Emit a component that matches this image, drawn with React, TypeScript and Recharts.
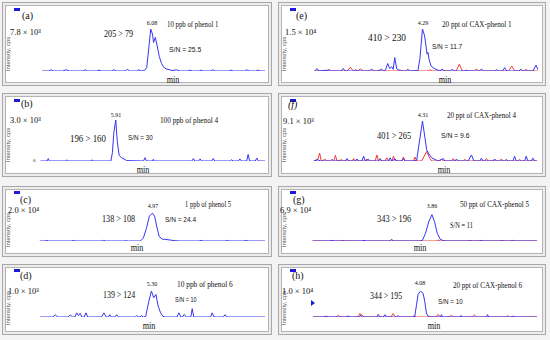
import React from 'react';
import { LineChart, Line, XAxis, YAxis } from 'recharts';

type Pt = [number, number];

// retention time (min), relative intensity (% of the panel's full scale)
const blueA: Pt[] = [[5.12,0],[5.18,0],[5.2,3],[5.22,0],[5.3,0],[5.33,3],[5.36,0],[5.48,0],[5.5,3],[5.52,0],[5.6,0],[5.62,2],[5.64,0],[5.73,0],[5.75,3],[5.77,0],[5.85,0],[5.87,4],[5.89,0],[5.95,0],[5.97,3],[5.99,0],[6.02,1],[6.04,8],[6.06,60],[6.075,100],[6.09,88],[6.1,68],[6.115,80],[6.13,62],[6.15,35],[6.17,18],[6.19,9],[6.21,5],[6.24,3],[6.27,1],[6.3,3],[6.33,0],[6.4,0],[6.42,2],[6.44,0],[6.5,0],[6.52,2],[6.54,0],[6.6,0],[6.62,3],[6.64,0],[6.76,0],[6.78,2],[6.8,0],[6.9,0],[6.92,3],[6.94,0],[7.0,0],[7.02,2],[7.04,0],[7.08,0]];

const blueE: Pt[] = [[3.18,0],[3.2,6],[3.22,0],[3.3,2],[3.32,0],[3.44,0],[3.46,6],[3.48,0],[3.56,0],[3.58,3],[3.6,0],[3.72,0],[3.74,5],[3.76,0],[3.82,0],[3.84,5],[3.86,0],[3.88,3],[3.9,18],[3.92,6],[3.94,10],[3.955,4],[3.97,32],[3.99,5],[4.02,0],[4.08,0],[4.1,4],[4.12,0],[4.2,1],[4.22,30],[4.245,100],[4.265,85],[4.28,60],[4.29,40],[4.3,44],[4.31,28],[4.33,12],[4.36,6],[4.39,3],[4.42,0],[4.44,5],[4.46,0],[4.52,0],[4.54,4],[4.56,0],[4.66,0],[4.68,2],[4.7,0],[4.81,0],[4.83,5],[4.85,0],[4.96,0],[4.98,3],[5.0,0],[5.04,0],[5.06,8],[5.08,0],[5.2,0],[5.22,4],[5.24,0],[5.34,0],[5.37,14],[5.39,3]];
const redE: Pt[] = [[3.17,0],[3.3,0],[3.32,4],[3.34,0],[3.5,0],[3.53,9],[3.56,0],[3.6,0],[3.63,5],[3.66,0],[3.8,0],[3.82,3],[3.84,0],[4.0,0],[4.02,3],[4.04,0],[4.3,0],[4.32,3],[4.34,0],[4.58,0],[4.61,16],[4.64,0],[4.76,0],[4.78,5],[4.8,0],[5.1,0],[5.13,12],[5.16,0],[5.25,0],[5.27,4],[5.29,0],[5.39,0]];

const blueB: Pt[] = [[3.6,0],[3.78,0],[3.81,6],[3.84,0],[4.27,0],[4.3,3],[4.33,0],[4.94,0],[4.97,3],[5.0,0],[5.48,0],[5.52,20],[5.56,70],[5.61,100],[5.65,48],[5.7,14],[5.76,8],[5.83,5],[5.9,1],[6.35,0],[6.39,8],[6.43,0],[6.58,0],[6.61,4],[6.64,0],[7.64,0],[7.68,6],[7.72,0],[7.82,0],[7.86,5],[7.9,0],[8.17,0],[8.21,6],[8.25,0],[8.66,0],[8.7,3],[8.74,0],[8.88,0],[8.92,5],[8.96,0],[9.1,0],[9.14,16],[9.18,0],[9.33,0],[9.37,7],[9.41,0],[9.59,0]];

const blueF: Pt[] = [[3.0,0],[3.05,3],[3.08,0],[3.2,0],[3.22,4],[3.24,0],[3.38,0],[3.4,6],[3.42,0],[3.5,0],[3.52,5],[3.54,0],[3.58,0],[3.6,12],[3.62,0],[3.66,4],[3.68,0],[3.78,0],[3.8,6],[3.82,0],[3.9,0],[3.92,8],[3.94,0],[3.98,5],[4.0,0],[4.06,0],[4.08,6],[4.1,0],[4.2,0],[4.24,2],[4.27,45],[4.31,100],[4.34,57],[4.36,28],[4.38,20],[4.42,8],[4.46,4],[4.5,0],[4.56,6],[4.58,0],[4.7,0],[4.72,5],[4.74,0],[4.86,0],[4.9,15],[4.93,0],[5.0,0],[5.02,7],[5.04,0],[5.16,0],[5.18,5],[5.2,0],[5.3,0],[5.32,4],[5.34,0],[5.4,0],[5.42,12],[5.44,0],[5.54,0],[5.56,12],[5.58,0],[5.62,0],[5.64,7],[5.66,0],[5.69,0]];
const redF: Pt[] = [[3.0,0],[3.05,5],[3.07,20],[3.09,0],[3.14,4],[3.16,0],[3.24,0],[3.26,14],[3.28,0],[3.34,3],[3.36,0],[3.46,0],[3.48,6],[3.5,0],[3.62,0],[3.64,5],[3.66,0],[3.74,0],[3.76,15],[3.78,0],[3.86,0],[3.88,8],[3.9,0],[3.94,0],[3.96,12],[3.98,0],[4.06,0],[4.08,10],[4.1,0],[4.2,0],[4.22,10],[4.24,0],[4.3,0],[4.33,12],[4.36,24],[4.39,10],[4.42,0],[4.52,0],[4.54,5],[4.56,0],[4.66,0],[4.68,6],[4.7,0],[4.8,0],[4.82,4],[4.84,0],[5.06,0],[5.08,6],[5.1,0],[5.24,0],[5.26,5],[5.28,0],[5.46,0],[5.48,4],[5.5,0],[5.69,0]];

const blueC: Pt[] = [[3.48,0],[3.55,0],[3.58,2],[3.6,0],[3.9,0],[3.93,2],[3.96,0],[4.3,0],[4.33,2],[4.36,0],[4.6,0],[4.63,1],[4.66,0],[4.82,0],[4.86,10],[4.9,40],[4.94,80],[4.98,90],[5.01,80],[5.04,45],[5.07,15],[5.11,6],[5.16,5],[5.22,3],[5.28,1],[5.35,0],[5.6,0],[5.63,2],[5.66,0],[5.95,0],[5.98,2],[6.01,0],[6.2,0],[6.23,2],[6.26,0],[6.48,0]];

const blueG: Pt[] = [[2.74,0],[2.9,0],[2.92,2],[2.94,0],[3.2,0],[3.22,2],[3.24,0],[3.46,0],[3.48,4],[3.5,0],[3.74,0],[3.77,2],[3.8,25],[3.83,62],[3.86,85],[3.885,62],[3.91,25],[3.94,5],[3.97,1],[4.0,0],[4.3,0],[4.32,2],[4.34,0],[4.6,0],[4.62,2],[4.64,0],[4.85,0]];
const redG: Pt[] = [[2.73,0],[3.0,0],[3.02,2],[3.04,0],[3.46,0],[3.48,4],[3.5,0],[3.9,0],[3.92,3],[3.94,0],[4.2,0],[4.22,2],[4.24,0],[4.5,0],[4.52,2],[4.54,0],[4.85,0]];

const blueD: Pt[] = [[4.34,0],[4.45,0],[4.47,9],[4.49,0],[4.58,0],[4.6,8],[4.62,0],[4.64,0],[4.655,16],[4.67,5],[4.685,14],[4.7,0],[4.72,0],[4.735,16],[4.75,0],[4.87,0],[4.89,16],[4.91,0],[4.93,0],[4.94,9],[4.955,0],[4.985,0],[5.0,9],[5.015,0],[5.16,0],[5.172,5],[5.19,0],[5.2,0],[5.215,5],[5.23,0],[5.25,2],[5.278,61],[5.3,100],[5.32,74],[5.339,87],[5.358,42],[5.379,16],[5.4,2],[5.42,0],[5.52,0],[5.537,16],[5.555,0],[5.568,0],[5.583,10],[5.6,0],[5.64,0],[5.652,32],[5.665,0],[5.81,0],[5.824,16],[5.84,0],[5.92,0],[5.936,9],[5.95,0],[6.28,0]];

const blueH: Pt[] = [[3.1,0],[3.2,0],[3.22,3],[3.24,0],[3.4,0],[3.42,4],[3.44,0],[3.52,0],[3.543,9],[3.56,0],[3.68,0],[3.694,10],[3.71,0],[3.74,0],[3.755,9],[3.77,0],[3.86,0],[3.876,5],[3.89,0],[4.01,0],[4.027,3],[4.043,47],[4.057,87],[4.079,100],[4.103,91],[4.118,59],[4.133,15],[4.148,3],[4.17,0],[4.26,0],[4.27,9],[4.28,0],[4.44,0],[4.45,6],[4.46,0],[4.68,0],[4.69,9],[4.7,0],[4.9,0],[4.92,3],[4.94,0],[5.14,0]];
const redH: Pt[] = [[3.1,0],[3.31,0],[3.33,6],[3.35,0],[3.51,0],[3.527,13],[3.54,0],[3.81,0],[3.83,13],[3.85,0],[4.0,0],[4.02,4],[4.04,0],[4.22,0],[4.24,10],[4.26,0],[4.34,0],[4.36,6],[4.38,0],[4.55,0],[4.57,8],[4.59,0],[4.86,0],[4.875,5],[4.89,0],[5.14,0]];

// x-axis tick labels (min)
const ticksA = [6.0, 7.0];
const ticksE = [4.0, 5.0];
const ticksB = [5.0, 7.0];
const ticksF = [4.0, 5.0];
const ticksC = [5.0];
const ticksG = [3.0, 4.0];
const ticksD = [5.0, 6.0];
const ticksH = [4.0, 5.0];

const BLUE = '#3535f5';
const RED = '#f03a3a';
const SERIF = '"Liberation Serif", "DejaVu Serif", serif';
const SANS = '"Liberation Sans", Arial, sans-serif';

interface Panel {
  box: [number, number, number, number]; // left, top, width, height
  plot: [number, number, number, number]; // left, right, top, bottom (page px)
  domain: [number, number];
  ticks: number[];
  blue: Pt[];
  red?: Pt[];
  marker?: boolean;
}

const panels: Panel[] = [
  { box: [2, 2, 270, 84], plot: [41, 265, 29, 71], domain: [5.11, 7.08], ticks: ticksA, blue: blueA },
  { box: [278, 2, 268, 84], plot: [314, 538, 29, 71], domain: [3.17, 5.39], ticks: ticksE, blue: blueE, red: redE },
  { box: [2, 93, 270, 84], plot: [40, 265, 120, 161], domain: [3.59, 9.59], ticks: ticksB, blue: blueB },
  { box: [278, 93, 268, 84], plot: [313, 537, 121, 161], domain: [2.99, 5.69], ticks: ticksF, blue: blueF, red: redF },
  { box: [2, 186, 270, 71], plot: [39, 265, 210, 241], domain: [3.47, 6.48], ticks: ticksC, blue: blueC },
  { box: [278, 186, 268, 71], plot: [312, 537, 210, 241], domain: [2.73, 4.85], ticks: ticksG, blue: blueG, red: redG },
  { box: [2, 264, 270, 71], plot: [39, 265, 291, 317], domain: [4.33, 6.28], ticks: ticksD, blue: blueD },
  { box: [278, 264, 268, 71], plot: [313, 537, 291, 317], domain: [3.1, 5.14], ticks: ticksH, blue: blueH, red: redH, marker: true },
];

// k: horizontal squeeze of the original figure's lettering
interface Note { t: string; x: number; y: number; s: number; c?: boolean; sans?: boolean; i?: boolean; k?: number }

const notes: Note[] = [
  { t: '(a)', x: 22, y: 16, s: 10, k: 1 },
  { t: '7.8 × 10³', x: 10, y: 32, s: 8.5, k: 1 },
  { t: '6.08', x: 152, y: 24, s: 6, c: true, k: 1 },
  { t: '10 ppb of phenol 1', x: 167, y: 25, s: 8 },
  { t: '205 > 79', x: 104, y: 34, s: 9.6 },
  { t: 'S/N = 25.5', x: 169, y: 50, s: 8, sans: true },
  { t: 'min', x: 173, y: 80, s: 10.5, c: true, k: 0.78 },

  { t: '(e)', x: 296, y: 16, s: 10, k: 1 },
  { t: '1.5 × 10⁴', x: 285, y: 32, s: 8.5, k: 1 },
  { t: '4.29', x: 423, y: 24, s: 6, c: true, k: 1 },
  { t: '20 ppt of CAX-phenol 1', x: 442, y: 25, s: 8.4 },
  { t: '410 > 230', x: 368, y: 38, s: 11 },
  { t: 'S/N = 11.7', x: 432, y: 47, s: 7.6, sans: true },
  { t: 'min', x: 445, y: 80, s: 10.5, c: true, k: 0.78 },

  { t: '(b)', x: 21, y: 104, s: 10, k: 1 },
  { t: '3.0 × 10³', x: 10, y: 120, s: 8.5, k: 1 },
  { t: '5.91', x: 116, y: 116, s: 6, c: true, k: 1 },
  { t: '100 ppb of phenol 4', x: 160, y: 120, s: 8.5 },
  { t: '196 > 160', x: 70, y: 139, s: 10.4 },
  { t: 'S/N = 30', x: 128, y: 138, s: 7.4, sans: true },
  { t: '0', x: 33, y: 161, s: 5, k: 1 },
  { t: 'min', x: 143, y: 170, s: 10.5, c: true, k: 0.78 },

  { t: '(f)', x: 288, y: 105, s: 10, i: true, k: 1 },
  { t: '9.1 × 10³', x: 283, y: 121, s: 8.5, k: 1 },
  { t: '4.31', x: 423, y: 116, s: 6, c: true, k: 1 },
  { t: '20 ppt of CAX-phenol 4', x: 447, y: 116, s: 8.3 },
  { t: '401 > 265', x: 377, y: 136, s: 9.9 },
  { t: 'S/N = 9.6', x: 441, y: 136, s: 8, sans: true },
  { t: 'min', x: 444, y: 170, s: 10.5, c: true, k: 0.78 },

  { t: '(c)', x: 20, y: 200, s: 10, k: 1 },
  { t: '2.0 × 10⁴', x: 8, y: 210, s: 8.5, k: 1 },
  { t: '4.97', x: 153, y: 207, s: 6, c: true, k: 1 },
  { t: '1 ppb of phenol 5', x: 185, y: 205, s: 7.7 },
  { t: '138 > 108', x: 102, y: 219, s: 9.6 },
  { t: 'S/N = 24.4', x: 165, y: 220, s: 7.7, sans: true },
  { t: 'min', x: 137, y: 248, s: 10.5, c: true, k: 0.78 },

  { t: '(g)', x: 293, y: 200, s: 10, k: 1 },
  { t: '6.9 × 10⁴', x: 280, y: 210, s: 8.5, k: 1 },
  { t: '3.86', x: 432, y: 207, s: 6, c: true, k: 1 },
  { t: '50 ppt of CAX-phenol 5', x: 460, y: 205, s: 8.3 },
  { t: '343 > 196', x: 377, y: 219, s: 9.9 },
  { t: 'S/N =  11', x: 450, y: 225, s: 7.5 },
  { t: 'min', x: 420, y: 248, s: 10.5, c: true, k: 0.78 },

  { t: '(d)', x: 20, y: 276, s: 10, k: 1 },
  { t: '1.0 × 10³', x: 8, y: 291, s: 8.5, k: 1 },
  { t: '5.30', x: 152, y: 285, s: 6, c: true, k: 1 },
  { t: '10 ppb of phenol 6', x: 177, y: 284, s: 8.7 },
  { t: '139 > 124', x: 103, y: 296, s: 9.3 },
  { t: 'S/N = 10', x: 175, y: 300, s: 6.5, sans: true },
  { t: 'min', x: 149, y: 326, s: 10.5, c: true, k: 0.78 },

  { t: '(h)', x: 292, y: 276, s: 10, k: 1 },
  { t: '1.0 × 10⁴', x: 282, y: 291, s: 8.5, k: 1 },
  { t: '4.08', x: 420, y: 284, s: 6, c: true, k: 1 },
  { t: '20 ppt of CAX-phenol 6', x: 453, y: 286, s: 8.3 },
  { t: '344 > 195', x: 370, y: 297, s: 9.3 },
  { t: 'S/N = 10', x: 438, y: 302, s: 7.4, sans: true },
  { t: 'min', x: 434, y: 326, s: 10.5, c: true, k: 0.78 },
];

const toRows = (pts: Pt[]) => pts.map(([t, v]) => ({ t, v }));

// unlabelled minor tick marks every 0.1 min; labels only on the majors
function axisTicks(domain: [number, number]) {
  const out: number[] = [];
  for (let k = Math.ceil(domain[0] * 10); k <= Math.floor(domain[1] * 10); k++) out.push(k / 10);
  return out;
}

function Chromatogram({ p }: { p: Panel }) {
  const [bl, bt, bw, bh] = p.box;
  const [pl, pr, pt, pb] = p.plot;
  const margin = { left: pl - bl, right: bl + bw - pr, top: pt - bt, bottom: bt + bh - pb };
  const isMajor = (v: number) => p.ticks.some((m) => Math.abs(m - v) < 1e-6);
  return (
    <div style={{ position: 'absolute', left: bl, top: bt }}>
      <LineChart width={bw} height={bh} margin={margin}>
        <XAxis
          type="number"
          dataKey="t"
          domain={p.domain}
          allowDataOverflow
          ticks={axisTicks(p.domain)}
          interval={0}
          height={0}
          tickSize={2}
          tickMargin={1}
          tickFormatter={(v: number) => (isMajor(v) ? v.toFixed(1) : '')}
          tick={{ fontSize: 6, fontFamily: SERIF, fill: '#333' }}
          stroke="#444"
        />
        <YAxis
          type="number"
          domain={[0, 100]}
          allowDataOverflow
          ticks={[0, 50, 100]}
          width={0}
          tickSize={2}
          tickFormatter={() => ''}
          stroke="#777"
        />
        {p.red && (
          <Line data={toRows(p.red)} dataKey="v" type="linear" stroke={RED} strokeWidth={1} dot={false} isAnimationActive={false} />
        )}
        <Line data={toRows(p.blue)} dataKey="v" type="linear" stroke={BLUE} strokeWidth={1} dot={false} isAnimationActive={false} />
      </LineChart>
    </div>
  );
}

export default function App() {
  return (
    <div style={{ position: 'absolute', left: 0, top: 0, width: 550, height: 340, background: '#f3f3f3', overflow: 'hidden', fontFamily: SERIF, color: '#111' }}>
      {panels.map((p, i) => (
        <div
          key={'f' + i}
          style={{
            position: 'absolute', left: p.box[0], top: p.box[1], width: p.box[2], height: p.box[3], boxSizing: 'border-box',
            border: '1px solid #a8a8a8', background: '#fff', boxShadow: 'inset 0 0 0 2px #ececec, inset 0 0 0 3px #b4b4b4',
          }}
        />
      ))}
      {panels.map((p, i) => (
        <div key={'r' + i} style={{ position: 'absolute', left: p.box[0] + 12, top: p.box[1] + (p.box[3] > 80 ? 6 : 5), width: 6, height: 3, background: '#1c1cd8' }} />
      ))}
      {panels.map((p, i) => (
        <div
          key={'y' + i}
          style={{ position: 'absolute', left: p.box[0] + 6, top: (p.plot[2] + p.plot[3]) / 2 + 4, width: 0, height: 0 }}
        >
          <div style={{ position: 'absolute', transform: 'translate(-50%, -50%) rotate(-90deg)', fontFamily: SANS, fontSize: 6, color: '#555', whiteSpace: 'nowrap' }}>
            Intensity, cps
          </div>
        </div>
      ))}
      {panels.map((p, i) => (
        <Chromatogram key={'c' + i} p={p} />
      ))}
      {panels.filter((p) => p.marker).map((p, i) => (
        <div key={'m' + i} style={{ position: 'absolute', left: p.plot[0] - 2, top: p.plot[2] + 9, width: 0, height: 0, borderTop: '3px solid transparent', borderBottom: '3px solid transparent', borderLeft: '4px solid #1c1cd8' }} />
      ))}
      {notes.map((n, i) => {
        const k = n.k ?? 0.85;
        return (
          <div
            key={'n' + i}
            style={{
              position: 'absolute', left: n.x, top: n.y - n.s * 0.6, fontSize: n.s, lineHeight: `${n.s * 1.2}px`,
              fontFamily: n.sans ? SANS : SERIF, fontStyle: n.i ? 'italic' : undefined, whiteSpace: 'nowrap',
              transformOrigin: n.c ? 'center' : 'left center',
              transform: (n.c ? 'translateX(-50%) ' : '') + `scaleX(${k})`,
            }}
          >
            {n.t}
          </div>
        );
      })}
    </div>
  );
}
